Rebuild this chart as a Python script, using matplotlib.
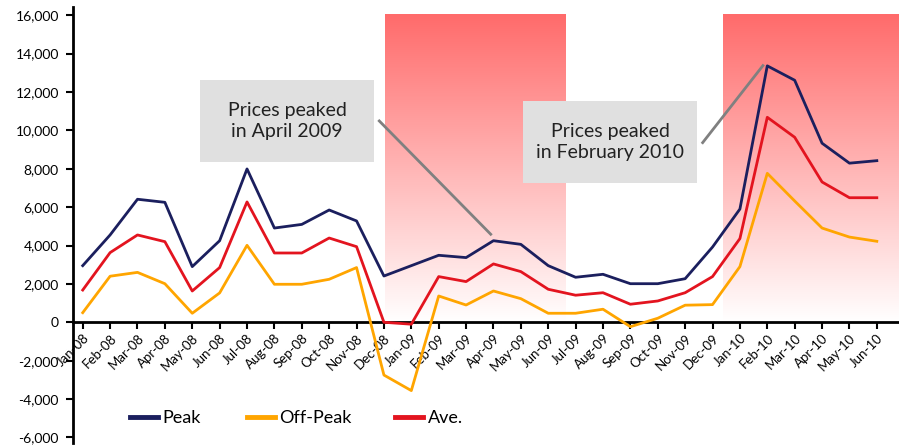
import numpy as np
import matplotlib
matplotlib.use("Agg")
import matplotlib.pyplot as plt
from matplotlib.colors import LinearSegmentedColormap
from matplotlib.legend import Legend

plt.rcParams['font.family'] = ['Lato', 'DejaVu Sans']

# Monthly prices, Jan-08 .. Jun-10
months = ["Jan-08", "Feb-08", "Mar-08", "Apr-08", "May-08", "Jun-08", "Jul-08", "Aug-08",
          "Sep-08", "Oct-08", "Nov-08", "Dec-08", "Jan-09", "Feb-09", "Mar-09", "Apr-09",
          "May-09", "Jun-09", "Jul-09", "Aug-09", "Sep-09", "Oct-09", "Nov-09", "Dec-09",
          "Jan-10", "Feb-10", "Mar-10", "Apr-10", "May-10", "Jun-10"]
peak = [2950, 4550, 6410, 6250, 2900, 4250, 7990, 4910, 5100, 5850, 5280, 2410, 2950, 3490,
        3370, 4250, 4060, 2950, 2345, 2500, 2010, 2010, 2270, 3920, 5900, 13360, 12610, 9330,
        8290, 8420]
off_peak = [500, 2400, 2600, 2010, 470, 1530, 4010, 1980, 1980, 2240, 2850, -2750, -3560, 1370,
            900, 1630, 1230, 470, 470, 680, -230, 210, 890, 920, 2900, 7760, 6320, 4910,
            4440, 4220]
ave = [1680, 3630, 4550, 4200, 1630, 2850, 6270, 3610, 3610, 4390, 3940, 0, -100, 2380,
       2120, 3040, 2640, 1720, 1410, 1540, 940, 1110, 1540, 2380, 4360, 10680, 9640, 7310,
       6490, 6490]

# shaded periods (month index units)
shade_periods = [(11.04, 17.64), (23.4, 29.9)]
shade_top = 16000

# annotations: text, box (x0, x1, y0, y1), connector line (x0, y0, x1, y1)
notes = [
    ("Prices peaked\nin April 2009", (4.28, 10.64, 8354, 12625), (10.83, 10490, 14.90, 4586)),
    ("Prices peaked\nin February 2010", (16.07, 22.44, 7275, 11532), (22.64, 9360, 24.84, 13372)),
]

fig = plt.figure(figsize=(8.99, 4.46), dpi=100)
ax = fig.add_axes([0.0809, 0.0063, 0.9191, 0.979])

# spine position first: it resets the ticks
for s in ["top", "right"]:
    ax.spines[s].set_visible(False)
ax.spines["bottom"].set_position(("data", 0))
ax.spines["bottom"].set_linewidth(2)
ax.spines["left"].set_linewidth(2)

x = np.arange(len(months))

cmap = LinearSegmentedColormap.from_list("shade", ["#ffffff", "#ff6b6b"])
grad = np.linspace(0, 1, 256).reshape(-1, 1)
for a, b in shade_periods:
    ax.imshow(grad, extent=[a, b, 0, shade_top], origin="lower", cmap=cmap,
              aspect="auto", zorder=0)

l1, = ax.plot(x, peak, color="#1b1f5e", lw=2.0, label="Peak", zorder=3)
l2, = ax.plot(x, off_peak, color="#ffa500", lw=2.0, label="Off-Peak", zorder=3)
l3, = ax.plot(x, ave, color="#e3141f", lw=2.0, label="Ave.", zorder=3)

for text, (bx0, bx1, by0, by1), (lx0, ly0, lx1, ly1) in notes:
    ax.add_patch(plt.Rectangle((bx0, by0), bx1 - bx0, by1 - by0, facecolor="#e0e0e0",
                               edgecolor="none", zorder=4))
    ax.text((bx0 + bx1) / 2, (by0 + by1) / 2, text, ha="center", va="center",
            fontsize=14, color="#222222", zorder=5, linespacing=1.3)
    ax.plot([lx0, lx1], [ly0, ly1], color="#808080", lw=2, zorder=4)

ax.set_xlim(-0.365, 29.81)
ax.set_ylim(-6300, 16450)
ax.set_yticks(np.arange(-6000, 16001, 2000))
ax.set_yticklabels([f"{v:,}" for v in range(-6000, 16001, 2000)], fontsize=10)
ax.set_xticks(x)
ax.set_xticklabels(months, rotation=45, ha="right", rotation_mode="anchor", fontsize=9.5)

ax.tick_params(axis="both", direction="out", length=5, width=1.5)
ax.tick_params(axis="x", pad=2)
ax.tick_params(axis="y", pad=5)

# one legend per entry, spaced like the original
for handle, xpos in [(l1, 0.069), (l2, 0.211), (l3, 0.390)]:
    leg = Legend(ax, [handle], [handle.get_label()], loc="center left",
                 bbox_to_anchor=(xpos, 0.058), frameon=False, fontsize=13,
                 handlelength=1.55, handletextpad=0.25, borderpad=0, borderaxespad=0)
    leg.get_lines()[0].set_linewidth(3.5)
    ax.add_artist(leg)

fig.savefig("out.png", dpi=100)
